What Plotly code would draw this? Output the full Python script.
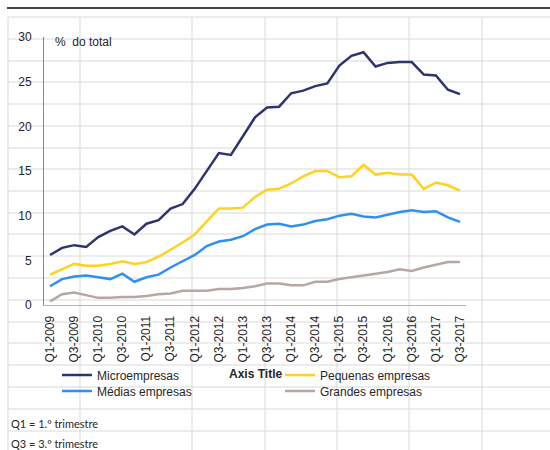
import plotly.graph_objects as go

# quarters Q1-2009 .. Q3-2017
quarters = [f"Q{q}-{y}" for y in range(2009, 2018) for q in (1, 2, 3, 4)][:35]
tick_labels = quarters[::2]

micro = [5.6, 6.4, 6.7, 6.5, 7.6, 8.3, 8.8, 7.9, 9.1, 9.5,
         10.8, 11.3, 13.0, 15.0, 17.0, 16.8, 18.9, 21.0, 22.1, 22.2,
         23.7, 24.0, 24.5, 24.8, 26.8, 27.9, 28.3, 26.7, 27.1, 27.2,
         27.2, 25.8, 25.7, 24.1, 23.6]
pequenas = [3.4, 4.0, 4.6, 4.4, 4.4, 4.6, 4.9, 4.6, 4.8, 5.4,
            6.2, 7.0, 7.9, 9.3, 10.8, 10.8, 10.9, 12.1, 12.9, 13.0,
            13.6, 14.4, 15.0, 15.0, 14.3, 14.4, 15.7, 14.6, 14.8, 14.6,
            14.6, 13.0, 13.7, 13.4, 12.8]
medias = [2.1, 2.9, 3.2, 3.3, 3.1, 2.9, 3.5, 2.6, 3.1, 3.4,
          4.2, 4.9, 5.6, 6.6, 7.1, 7.3, 7.7, 8.5, 9.0, 9.1,
          8.8, 9.0, 9.4, 9.6, 10.0, 10.2, 9.9, 9.8, 10.1, 10.4,
          10.6, 10.4, 10.5, 9.8, 9.3]
grandes = [0.4, 1.2, 1.4, 1.1, 0.8, 0.8, 0.9, 0.9, 1.0, 1.2,
           1.3, 1.6, 1.6, 1.6, 1.8, 1.8, 1.9, 2.1, 2.4, 2.4,
           2.2, 2.2, 2.6, 2.6, 2.9, 3.1, 3.3, 3.5, 3.7, 4.0,
           3.8, 4.2, 4.5, 4.8, 4.8]

series = [
    ("Microempresas", micro, "#2e3470"),
    ("Pequenas empresas", pequenas, "#ffd21f"),
    ("Médias empresas", medias, "#2f90f0"),
    ("Grandes empresas", grandes, "#b5a8a3"),
]

W, H = 550, 450
L, R, T, B = 44, 84, 37, 145
FONT = "Liberation Sans, Arial, sans-serif"


def px(x):
    return (x - L) / (W - L - R)


def py(y):
    return (H - B - y) / (H - T - B)


# one legend box per entry so the 2x2 legend grid matches Excel's spacing
legend_ids = ["legend", "legend2", "legend3", "legend4"]
legend_pos = [(57, 375), (280, 375), (57, 391), (280, 391)]

fig = go.Figure()
for (name, vals, color), leg in zip(series, legend_ids):
    fig.add_trace(go.Scatter(x=quarters, y=vals, name=name, mode="lines",
                             legend=leg, line=dict(color=color, width=2.5)))

# spreadsheet cell grid showing through the transparent chart
shapes = []
grid = "#d9d9d9"
for gy in [17, 39, 61, 82, 104, 126, 148, 169, 191, 213, 234, 256,
           278, 300, 322, 343, 365, 387, 409, 431]:
    shapes.append(dict(type="line", xref="paper", yref="paper", layer="below",
                       x0=px(8), x1=px(550), y0=py(gy), y1=py(gy),
                       line=dict(color=grid, width=1)))
for gx in [8, 80, 192, 265, 337, 409, 482]:
    shapes.append(dict(type="line", xref="paper", yref="paper", layer="below",
                       x0=px(gx), x1=px(gx), y0=py(17), y1=py(450),
                       line=dict(color=grid, width=1)))
shapes.append(dict(type="line", xref="paper", yref="paper",
                   x0=px(7), x1=px(550), y0=py(8), y1=py(8),
                   line=dict(color="black", width=1.5)))

annotations = [
    dict(text="%\u00a0 do total", xref="paper", yref="paper", x=px(53), y=py(42),
         xanchor="left", yanchor="middle", showarrow=False,
         font=dict(size=12, color="#262626", family=FONT)),
    dict(text="<b>Axis Title</b>", xref="paper", yref="paper", x=px(255), y=py(374),
         xanchor="center", yanchor="middle", showarrow=False,
         font=dict(size=12, color="#262626", family=FONT)),
    dict(text="Q1 = 1.º trimestre", xref="paper", yref="paper", x=px(9), y=py(423),
         xanchor="left", yanchor="middle", showarrow=False,
         font=dict(size=11, color="#262626", family="Lato, sans-serif")),
    dict(text="Q3 = 3.º trimestre", xref="paper", yref="paper", x=px(9), y=py(444),
         xanchor="left", yanchor="middle", showarrow=False,
         font=dict(size=11, color="#262626", family="Lato, sans-serif")),
]

legends = {}
for leg, (lx, ly) in zip(legend_ids, legend_pos):
    legends[leg] = dict(orientation="v", x=px(lx), y=py(ly), xanchor="left",
                        yanchor="middle", bgcolor="rgba(0,0,0,0)", itemwidth=30,
                        font=dict(size=12, family=FONT, color="#262626"))

fig.update_layout(
    width=W, height=H,
    margin=dict(l=L, r=R, t=T, b=B, autoexpand=False),
    paper_bgcolor="white",
    plot_bgcolor="rgba(0,0,0,0)",
    font=dict(family=FONT, size=12, color="#262626"),
    shapes=shapes,
    annotations=annotations,
    showlegend=True,
    **legends,
)
fig.update_xaxes(type="category", range=[-0.5, 34.5], tickvals=tick_labels,
                 ticktext=tick_labels, tickangle=-90, showgrid=False, zeroline=False,
                 showline=True, linecolor="#b4b4b4", linewidth=1,
                 ticks="outside", ticklen=5, tickcolor="rgba(0,0,0,0)",
                 tickfont=dict(size=12, family=FONT, color="#262626"))
fig.update_yaxes(range=[0, 30], dtick=5, showgrid=False, zeroline=False,
                 showline=True, linecolor="#868686", linewidth=1,
                 ticks="outside", ticklen=9, tickcolor="rgba(0,0,0,0)",
                 tickfont=dict(size=12, family=FONT, color="#262626"))

# drop the browser's default page margin so the figure sits at (0, 0)
fig.write_html("out.html", config={"displayModeBar": False},
               post_script="document.body.style.margin='0';")
